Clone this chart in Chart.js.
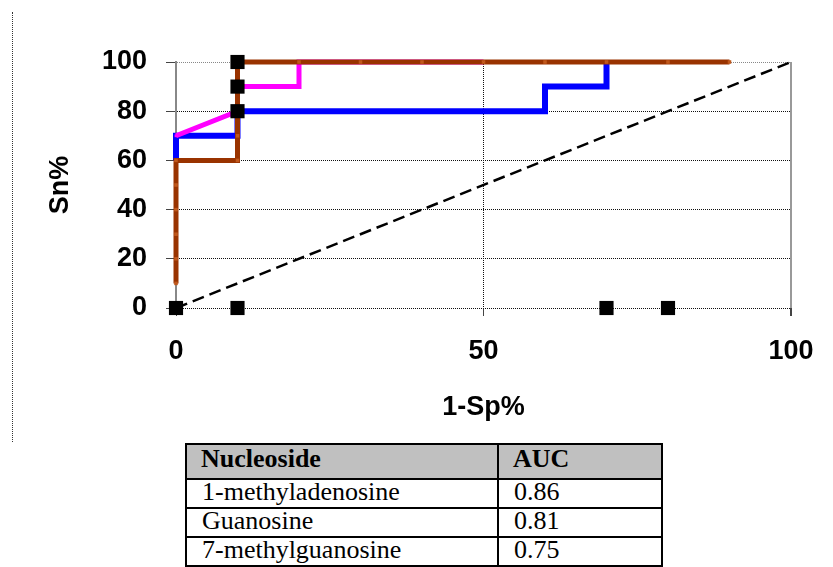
<!DOCTYPE html>
<html>
<head>
<meta charset="utf-8">
<title>ROC curves</title>
<script src="https://cdn.jsdelivr.net/npm/chart.js@4/dist/chart.umd.min.js"></script>
<style>
  html, body { margin: 0; padding: 0; background: #fff; }
  body { width: 833px; height: 567px; position: relative; overflow: hidden; }
  .page-rule { position: absolute; left: 12px; top: 12px; height: 430px; border-left: 1px dotted #333; }
  .chart-wrap { position: absolute; left: 0; top: 0; width: 833px; height: 440px; }
  .auc {
    position: absolute; left: 185px; top: 443px;
    display: grid;
    grid-template-columns: 312px 164px;
    grid-template-rows: 35px 29px 29px 29px;
    border-top: 2px solid #000; border-left: 2px solid #000;
    font-family: "Liberation Serif", "Times New Roman", serif;
    font-size: 26px; color: #000;
  }
  .auc div {
    box-sizing: border-box;
    border-right: 2px solid #000; border-bottom: 2px solid #000;
    padding-left: 15px; line-height: 23px; white-space: nowrap;
  }
  .auc .head { background: #c0c0c0; font-weight: bold; line-height: 28px; padding-left: 14px; }
</style>
</head>
<body>
<div class="page-rule"></div>
<div class="chart-wrap"><canvas id="roc" width="833" height="440"></canvas></div>
<div class="auc" id="auc"></div>
<script>
// ROC points (1-Sp% on x, Sn% on y)
const blueX = [0, 0, 10, 10, 60, 60, 70, 70];
const blueY = [60, 70, 70, 80, 80, 90, 90, 100];
const pinkX = [0, 10, 10, 20, 20, 30, 40, 50];
const pinkY = [70, 80, 90, 90, 100, 100, 100, 100];
const brownX = [0, 0, 0, 0, 0, 0, 10, 10, 10, 10, 10, 20, 30, 40, 50, 60, 70, 80, 90];
const brownY = [10, 20, 30, 40, 50, 60, 60, 70, 80, 90, 100, 100, 100, 100, 100, 100, 100, 100, 100];
const squareX = [0, 10, 10, 10, 10, 70, 80];
const squareY = [0, 0, 80, 90, 100, 0, 0];
const chanceX = [0, 100];
const chanceY = [0, 100];

const xTicks = [0, 50, 100];
const yTicks = [0, 20, 40, 60, 80, 100];

const nucleosides = ["1-methyladenosine", "Guanosine", "7-methylguanosine"];
const aucValues = ["0.86", "0.81", "0.75"];

const pts = (xs, ys) => xs.map((x, i) => ({ x, y: ys[i] }));

Chart.defaults.font.family = '"Liberation Sans", Arial, sans-serif';
Chart.defaults.color = "#000";

const tickFont = { size: 27, weight: "bold" };

new Chart(document.getElementById("roc"), {
  type: "line",
  data: {
    datasets: [
      {
        data: pts(chanceX, chanceY),
        borderColor: "#000",
        borderWidth: 2.5,
        borderDash: [12, 6],
        pointRadius: 0,
        order: 5,
        clip: false,
      },
      {
        data: pts(blueX, blueY),
        borderColor: "#0000ff",
        borderWidth: 6,
        pointRadius: 2,
        pointStyle: "rect",
        pointBackgroundColor: "#0000ff",
        pointBorderWidth: 0,
        order: 4,
        clip: false,
      },
      {
        data: pts(pinkX, pinkY),
        borderColor: "#ff00ff",
        borderWidth: 5,
        pointRadius: 2,
        pointStyle: "rect",
        pointBackgroundColor: "#ff00ff",
        pointBorderWidth: 0,
        order: 3,
        clip: false,
      },
      {
        data: pts(brownX, brownY),
        borderColor: "#993300",
        borderWidth: 5,
        pointRadius: 2.5,
        pointStyle: "rect",
        pointBackgroundColor: "#c0581c",
        pointBorderWidth: 0,
        order: 2,
        clip: false,
      },
      {
        data: pts(squareX, squareY),
        showLine: false,
        pointStyle: "rect",
        pointRadius: 10,
        pointBackgroundColor: "#000",
        pointBorderWidth: 0,
        order: 1,
        clip: false,
      },
    ],
  },
  options: {
    responsive: false,
    animation: false,
    events: [],
    layout: { padding: { left: 0, top: 62, right: 42, bottom: 0 } },
    plugins: { legend: { display: false }, tooltip: { enabled: false } },
    scales: {
      x: {
        type: "linear",
        min: 0,
        max: 100,
        afterFit: (s) => { s.height = 132; },
        afterBuildTicks: (s) => { s.ticks = xTicks.map(v => ({ value: v })); },
        ticks: { font: tickFont, padding: 19, maxRotation: 0 },
        grid: {
          color: (c) => c.tick.value === 100 ? "#999" : c.tick.value === 0 ? "rgba(0,0,0,0)" : "#111",
          lineWidth: (c) => c.tick.value === 100 ? 2 : 1,
          tickLength: 8,
          tickColor: "#444",
        },
        border: { display: false, dash: (c) => c.tick && c.tick.value === 100 ? [] : [1, 1] },
        title: { display: true, text: "1-Sp%", font: tickFont, padding: { top: 0, bottom: 16 } },
      },
      y: {
        min: 0,
        max: 100,
        afterFit: (s) => { s.width = 176; },
        afterBuildTicks: (s) => { s.ticks = yTicks.map(v => ({ value: v })); },
        ticks: { font: tickFont, padding: 19 },
        grid: {
          color: (c) => c.tick.value === 100 ? "#888" : "#111",
          lineWidth: 1,
          tickLength: 10,
          tickColor: "#444",
        },
        border: { display: true, color: "#888", width: 2, dash: [1, 1] },
        title: { display: true, text: "Sn%", font: tickFont, padding: { top: 44, bottom: 0 } },
      },
    },
  },
});

// AUC table under the chart
const auc = document.getElementById("auc");
function cell(text, cls) {
  const d = document.createElement("div");
  if (cls) d.className = cls;
  d.textContent = text;
  auc.appendChild(d);
}
cell("Nucleoside", "head");
cell("AUC", "head");
nucleosides.forEach((n, i) => {
  cell(n);
  cell(aucValues[i]);
});
</script>
</body>
</html>
